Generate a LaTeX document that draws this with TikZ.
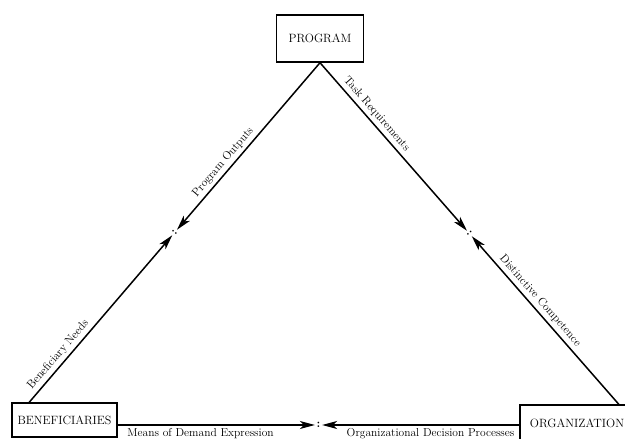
\documentclass[tikz,border=0pt]{standalone}
\usetikzlibrary{positioning,calc,arrows.meta}
\tikzset{box/.style={draw,rectangle,inner sep=0pt,font=\fontsize{12}{14}\selectfont}}
\tikzset{midpt/.style={inner sep=1pt,font=\large\bfseries}}
\tikzset{lbl/.style={font=\fontsize{11.5}{13}\selectfont,sloped,inner sep=3pt}}
\tikzset{>={Stealth[length=15pt,width=8pt,inset=4pt]}}

\begin{document}
\begin{tikzpicture}[x=1pt,y=1pt,line width=1.5pt]
	\useasboundingbox (0,0) rectangle (625,439);
		\node[box,minimum width=87pt,minimum height=47pt] (prog) at (320,400.5) {PROGRAM};
		\node[box,minimum width=105pt,minimum height=34pt] (ben) at (64.5,19) {BENEFICIARIES};
		\node[box,minimum width=114pt,minimum height=36pt] (org) at (577,16) {ORGANIZATION};

		\coordinate (bTop) at ($(ben.north west)+(18,0)$);
		\coordinate (oTop) at ($(org.north east)+(-16,0)$);
		\coordinate (bRt) at ($(ben.east)+(0,-5)$);
		\coordinate (oLft) at ($(org.west)+(0,-2)$);

		\node[midpt,rotate=49.6] (mL) at ($(bTop)!0.5!(prog.south)$) {:};
		\node[midpt,rotate=-49] (mR) at ($(oTop)!0.5!(prog.south)$) {:};
		\node[midpt] (mB) at ($(bRt)!0.5!(oLft)$) {:};

		\draw[->] (bTop) -- (mL) node[lbl,above,pos=0.25] {Beneficiary Needs};
		\draw[->] (prog.south) -- (mL) node[lbl,above,pos=0.63] {Program Outputs};
		\draw[->] (prog.south) -- (mR) node[lbl,above,pos=0.34] {Task Requirements};
		\draw[->] (oTop) -- (mR) node[lbl,above,pos=0.58] {Distinctive Competence};
		\draw[->] (bRt) -- (mB) node[lbl,below,pos=0.42] {Means of Demand Expression};
		\draw[->] (oLft) -- (mB) node[lbl,below,pos=0.45] {Organizational Decision Processes};
\end{tikzpicture}
\end{document}
